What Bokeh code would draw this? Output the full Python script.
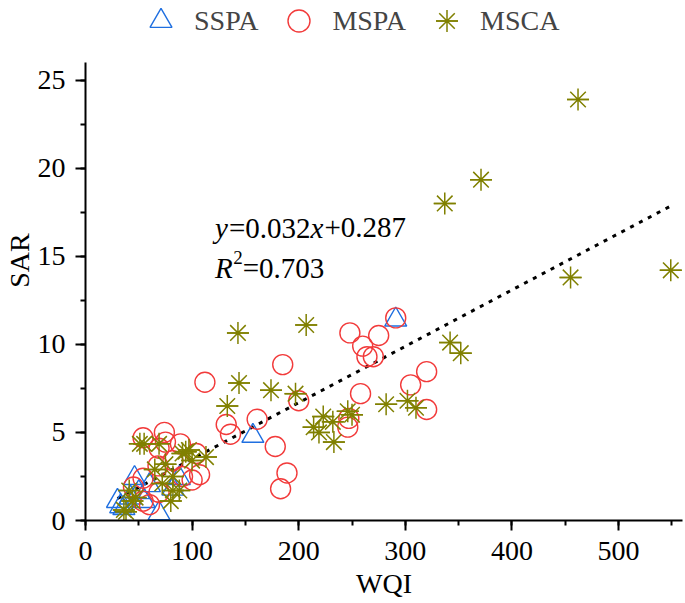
from bokeh.plotting import figure
from bokeh.models import Range1d, SingleIntervalTicker, Legend, LegendItem, Label
from bokeh.embed import file_html
from bokeh.resources import INLINE

# ---------------- data ----------------
sspa_wqi = [291, 157, 46, 88, 69, 36, 30, 50, 42, 60, 82, 33, 55]
sspa_sar = [11.4, 4.8, 2.4, 2.4, 0.4, 0.7, 1.1, 1.6, 1.3, 2.0, 1.8, 0.8, 1.1]

mspa_wqi = [248, 275, 260, 264, 270, 291, 185, 320, 305, 258, 200, 320, 161, 247, 246,
            178, 189, 183, 112, 132, 136, 54, 74, 75, 89, 69, 104, 68, 91, 100,
            54, 69, 54, 107, 82, 60, 45]
mspa_sar = [10.65, 10.5, 9.9, 9.3, 9.3, 11.5, 8.85, 8.45, 7.7, 7.2, 6.8, 6.3, 5.75, 5.8, 5.3,
            4.2, 2.7, 1.8, 7.85, 5.45, 4.9, 4.7, 5.0, 4.45, 4.35, 4.1, 3.8, 3.1, 2.5, 2.3,
            2.4, 1.6, 1.1, 2.6, 3.4, 0.9, 1.9]

msca_wqi = [462, 371, 337, 455, 549, 342, 352, 207, 143, 144, 174, 197, 133, 282, 302,
            310, 223, 214, 219, 233, 246, 250, 232, 113, 94, 51, 69, 91, 97, 75,
            65, 82, 72, 82, 80, 41, 44, 36, 47, 100, 55, 88, 38]
msca_sar = [23.9, 19.35, 18.0, 13.8, 14.2, 10.1, 9.5, 11.1, 10.65, 7.8, 7.4, 7.2, 6.5, 6.6, 6.8,
            6.4, 5.9, 5.3, 5.0, 4.45, 6.2, 6.0, 5.6, 3.6, 3.9, 4.35, 4.35, 3.8, 4.0, 3.2,
            2.9, 2.5, 2.1, 1.7, 1.1, 1.7, 1.1, 0.6, 1.3, 3.4, 4.35, 1.7, 0.5]

fit_slope = 0.032
fit_intercept = 0.287
fit_wqi = [30, 550]
fit_sar = [fit_slope * v + fit_intercept for v in fit_wqi]

series_labels = ["SSPA", "MSPA", "MSCA"]
x_title = "WQI"
y_title = "SAR"
x_ticks_interval = 100
y_ticks_interval = 5
x_axis_max = 560
y_axis_max = 26

# ---------------- style ----------------
FONT = "Liberation Serif"
BLUE = "#1f6fe0"
RED = "#f23a3a"
OLIVE = "#808000"

FRAME_TOP_PX = 62          # where the y axis ends (pixels from top)
FRAME_BOTTOM_PX = 520      # x axis position
px_per_unit = (FRAME_BOTTOM_PX - FRAME_TOP_PX) / y_axis_max
y_view_max = FRAME_BOTTOM_PX / px_per_unit   # frame extends to the top edge (room for legend)

p = figure(width=685, height=603, output_backend="svg", toolbar_location=None,
           x_range=Range1d(0, x_axis_max), y_range=Range1d(0, y_view_max),
           min_border_left=83, min_border_right=3, min_border_top=0, min_border_bottom=83)
p.outline_line_color = None
p.xgrid.visible = False
p.ygrid.visible = False
p.background_fill_color = "white"

p.xaxis.ticker = SingleIntervalTicker(interval=x_ticks_interval, num_minor_ticks=2)
p.yaxis.ticker = SingleIntervalTicker(interval=y_ticks_interval, num_minor_ticks=2)
p.yaxis.bounds = (0, y_axis_max)
p.xaxis.axis_label = x_title
p.yaxis.axis_label = y_title
for ax in (p.xaxis[0], p.yaxis[0]):
    ax.axis_line_width = 2
    ax.axis_line_color = "black"
    ax.major_tick_line_width = 2
    ax.minor_tick_line_width = 2
    ax.major_tick_in = 0
    ax.major_tick_out = 10
    ax.minor_tick_in = 0
    ax.minor_tick_out = 5
    ax.major_label_text_font = FONT
    ax.major_label_text_font_size = "28px"
    ax.major_label_text_color = "black"
    ax.axis_label_text_font = FONT
    ax.axis_label_text_font_size = "28px"
    ax.axis_label_text_font_style = "normal"
    ax.axis_label_text_color = "black"
p.xaxis.major_label_standoff = 11
p.xaxis.axis_label_standoff = 5
p.yaxis.major_label_standoff = 10
p.yaxis.axis_label_standoff = 0

# regression line
p.line(fit_wqi, fit_sar, line_color="black", line_width=3, line_dash="4 6")

r_s = p.scatter(sspa_wqi, sspa_sar, marker="triangle", size=22, fill_color=None,
                line_color=BLUE, line_width=1.4)
r_m = p.scatter(mspa_wqi, mspa_sar, marker="circle", size=20, fill_color=None,
                line_color=RED, line_width=1.4)
r_c1 = p.scatter(msca_wqi, msca_sar, marker="asterisk", size=22, fill_color=None,
                 line_color=OLIVE, line_width=1.5)
r_c2 = p.scatter(msca_wqi, msca_sar, marker="dash", size=22, fill_color=None,
                 line_color=OLIVE, line_width=1.5)

legend = Legend(items=[LegendItem(label=series_labels[0], renderers=[r_s]),
                       LegendItem(label=series_labels[1], renderers=[r_m]),
                       LegendItem(label=series_labels[2], renderers=[r_c1, r_c2])],
                orientation="horizontal", location=(48, 472),
                glyph_width=55, glyph_height=55, label_standoff=6, spacing=13,
                padding=0, margin=0, border_line_color=None, background_fill_alpha=0,
                label_text_font=FONT, label_text_font_size="28px")
p.add_layout(legend, "center")

# equation
ex, ey1, ey2 = 121.5, 16.61, 14.31
fs = 29
def w(units):
    return units / 1000 * fs
parts1 = [("y", "italic", 0), ("=0.032", "normal", w(444) + 1),
          ("x", "italic", w(444) + w(2814) + 1), ("+0.287", "normal", w(444) * 2 + w(2814) + 2)]
for t, st, off in parts1:
    p.add_layout(Label(x=ex, y=ey1, x_offset=off, text=t, text_font=FONT, text_font_style=st,
                       text_font_size=f"{fs}px", text_baseline="alphabetic", text_color="black"))
p.add_layout(Label(x=ex, y=ey2, text="R", text_font=FONT, text_font_style="italic",
                   text_font_size=f"{fs}px", text_baseline="alphabetic", text_color="black"))
p.add_layout(Label(x=ex, y=ey2, x_offset=w(611) + 0.5, y_offset=11, text="2", text_font=FONT,
                   text_font_size="19px", text_baseline="alphabetic", text_color="black"))
p.add_layout(Label(x=ex, y=ey2, x_offset=w(611) + 10, text="=0.703", text_font=FONT,
                   text_font_size=f"{fs}px", text_baseline="alphabetic", text_color="black"))

open("out.html", "w").write(file_html(p, INLINE))
